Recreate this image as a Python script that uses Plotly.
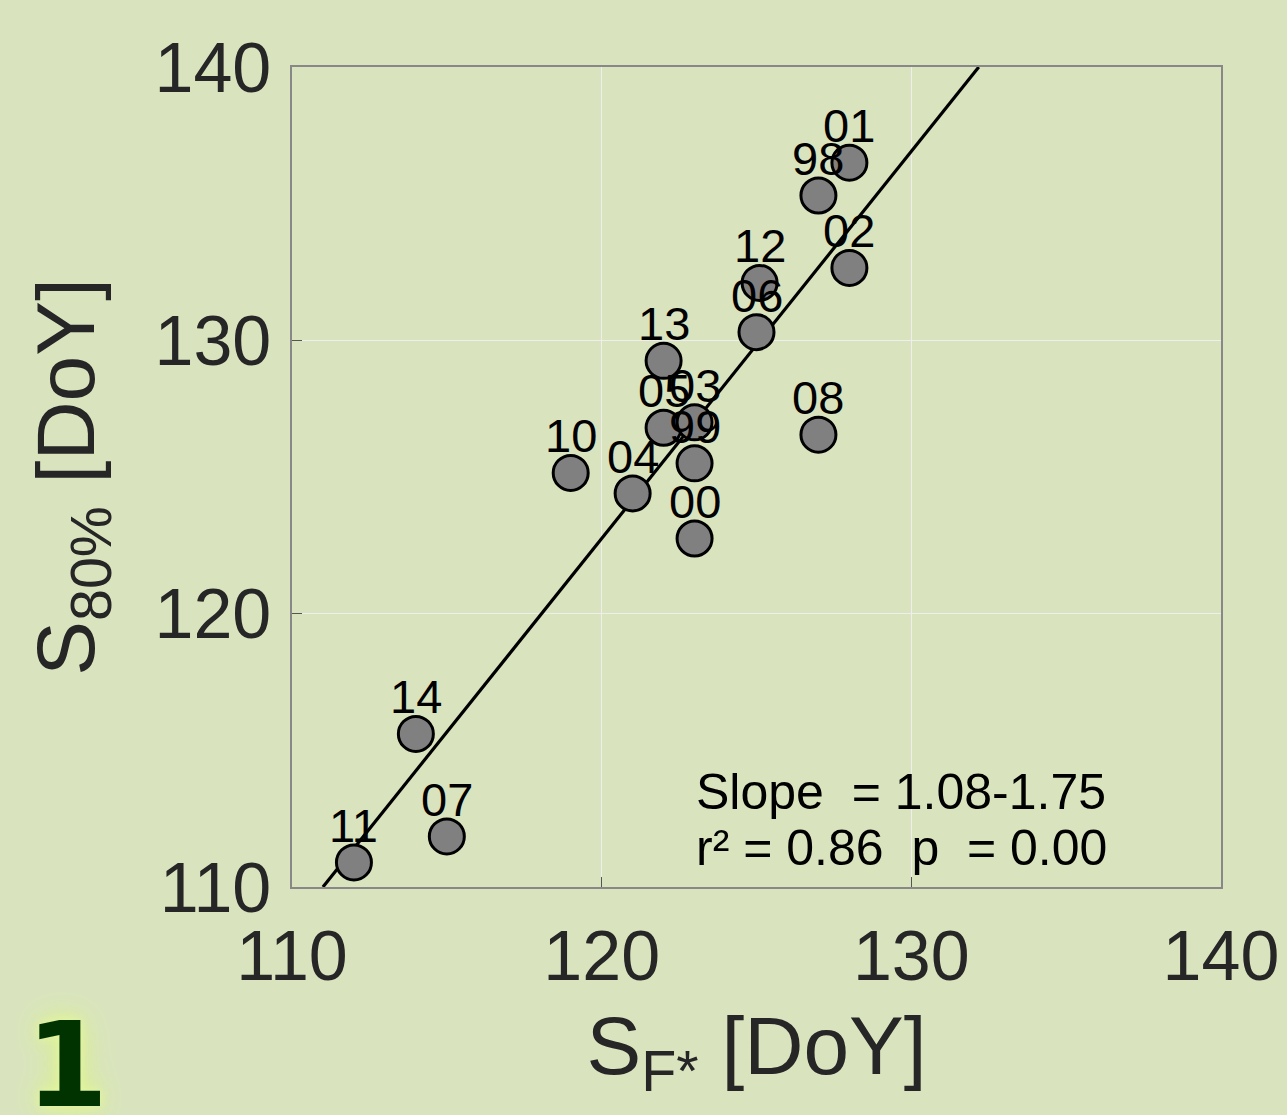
import plotly.graph_objects as go

years = ["01", "98", "02", "12", "06", "13", "05", "03", "99", "00", "10", "04", "08", "14", "07", "11"]
s_fstar = [128.0, 127.0, 128.0, 125.1, 125.0, 122.0, 122.0, 123.0, 123.0, 123.0, 119.0, 121.0, 127.0, 114.0, 115.0, 112.0]
s_80 = [136.5, 135.3, 132.65, 132.1, 130.3, 129.25, 126.8, 127.0, 125.5, 122.75, 125.15, 124.4, 126.55, 115.6, 111.85, 110.9]

fit_slope = 1.4165
fit_intercept = -47.23
axis_min, axis_max = 110, 140
tick_vals = [110, 120, 130, 140]

stats_line1 = "Slope  = 1.08-1.75"
stats_line2 = "r\u00b2 = 0.86  p  = 0.00"
panel_label = "1"

BG = "#d9e4bf"
FONT = "Liberation Sans, Arial, sans-serif"

# fit line clipped to the axes box
x_lo = max(axis_min, (axis_min - fit_intercept) / fit_slope)
x_hi = min(axis_max, (axis_max - fit_intercept) / fit_slope)
line_x = [x_lo, x_hi]
line_y = [fit_slope * v + fit_intercept for v in line_x]

fig = go.Figure()
fig.add_trace(go.Scatter(
    x=line_x, y=line_y, mode="lines",
    line=dict(color="black", width=3.2), hoverinfo="skip", showlegend=False,
))
fig.add_trace(go.Scatter(
    x=s_fstar, y=s_80, mode="markers",
    marker=dict(size=35, color="#808080", line=dict(color="black", width=3)),
    showlegend=False, cliponaxis=False,
))

for yr, xv, yv in zip(years, s_fstar, s_80):
    fig.add_annotation(
        x=xv, y=yv, text=yr, showarrow=False, yshift=37,
        font=dict(family=FONT, size=47, color="black"),
    )

axis_common = dict(
    range=[axis_min, axis_max], tickvals=tick_vals,
    showgrid=True, gridcolor="#eeeeee", gridwidth=1,
    zeroline=False, showline=True, linecolor="#888888", linewidth=1.5, mirror=True,
    ticks="inside", ticklen=10, tickcolor="#555555",
    tickfont=dict(family=FONT, size=70, color="#262626"),
)

fig.update_layout(
    width=1287, height=1115,
    paper_bgcolor=BG, plot_bgcolor=BG,
    margin=dict(l=292, r=66, t=67, b=228),
    xaxis=dict(**axis_common, ticklabelstandoff=7, automargin="bottom",
               title=dict(text="S<sub>F*</sub> [DoY]", font=dict(family=FONT, size=82, color="#262626"), standoff=23)),
    yaxis=dict(**axis_common, ticklabelstandoff=5, automargin="left",
               title=dict(text="S<sub>80%</sub> [DoY]", font=dict(family=FONT, size=82, color="#262626"), standoff=33)),
    showlegend=False,
)

plot_top, plot_bottom = 67, 887
def row_to_paper(row):
    return (plot_bottom - row) / (plot_bottom - plot_top)

fig.add_annotation(
    x=0.433, y=row_to_paper(792), xref="paper", yref="paper", xanchor="left", yanchor="middle",
    text=stats_line1, showarrow=False,
    font=dict(family=FONT, size=50, color="black"),
)
fig.add_annotation(
    x=0.433, y=row_to_paper(848), xref="paper", yref="paper", xanchor="left", yanchor="middle",
    text=stats_line2, showarrow=False,
    font=dict(family=FONT, size=50, color="black"),
)

fig.add_annotation(
    x=-0.288, y=-0.304, xref="paper", yref="paper", xanchor="left", yanchor="bottom",
    text="<b>" + panel_label + "</b>", showarrow=False,
    font=dict(family="DejaVu Sans, sans-serif", size=118, color="#003300",
              shadow="0px 0px 10px #e6f8a0, 0px 0px 22px #dcf294, 0px 0px 36px #d8ee90"),
)

fig.write_html(
    "out.html",
    config={"displayModeBar": False},
    post_script="document.body.style.margin='0';document.body.style.background='" + BG + "';",
)
